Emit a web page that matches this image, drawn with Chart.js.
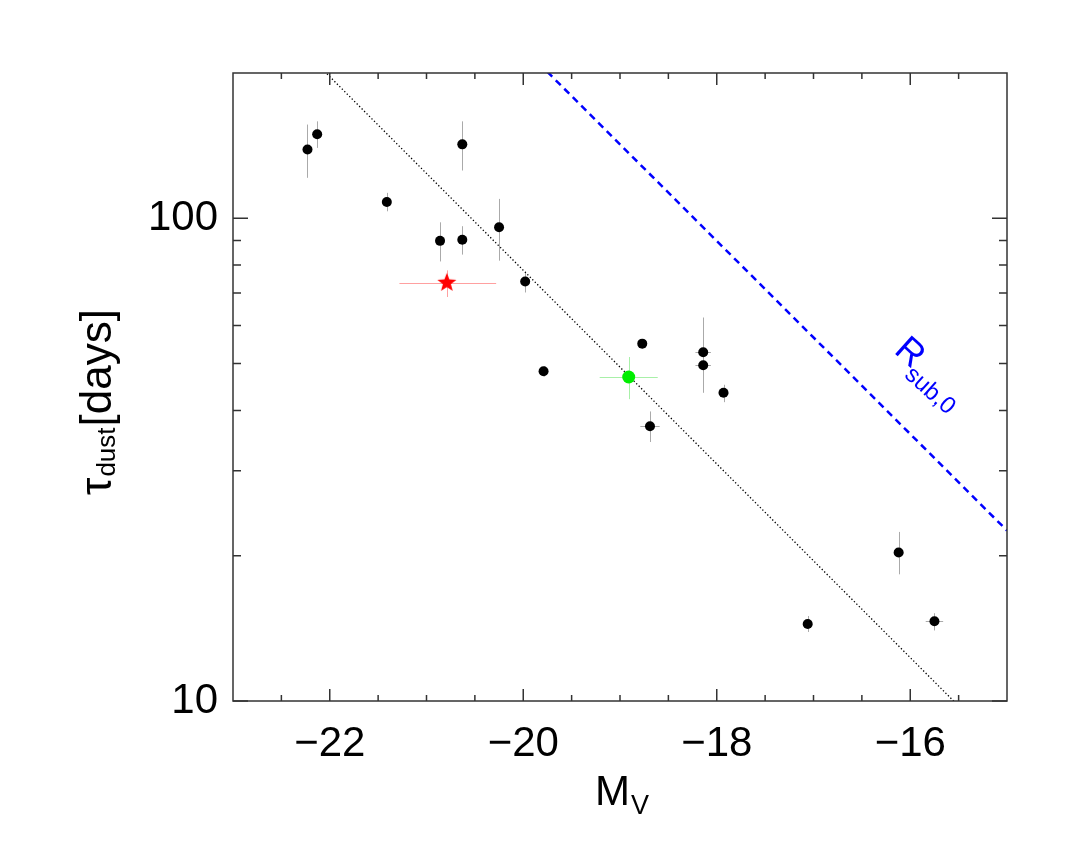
<!DOCTYPE html>
<html>
<head>
<meta charset="utf-8">
<script src="https://cdn.jsdelivr.net/npm/chart.js@4.4.1/dist/chart.umd.min.js"></script>
<style>
  body { margin: 0; background: #fff; }
  canvas { display: block; }
</style>
</head>
<body>
<canvas id="tauChart" width="1077" height="850"></canvas>
<script>
// --- data ---
// black points: M_V, tau_dust and their error bars
const mvBlack   = [-22.23, -22.13, -21.41, -20.86, -20.63, -20.63, -20.25, -19.98, -19.79, -18.77, -18.69, -18.14, -18.14, -17.93, -17.06, -16.12, -15.75];
const tauBlack  = [138.8, 149.3, 108.1, 89.8, 90.3, 142.3, 95.8, 74.0, 48.2, 55.0, 37.1, 52.8, 49.6, 43.5, 14.44, 20.3, 14.63];
const tauHi     = [156.4, 158.8, 112.9, 98.1, 96.3, 158.8, 109.7, 77.6, 49.4, 56.2, 39.8, 62.3, 52.0, 45.2, 15.0, 22.4, 15.2];
const tauLo     = [121.3, 139.9, 103.4, 81.4, 84.1, 125.6, 81.7, 70.2, 47.0, 53.8, 34.4, 50.5, 43.5, 41.6, 13.9, 18.3, 14.0];
const mvErr     = [0.03, 0.03, 0.03, 0.04, 0.04, 0.04, 0.04, 0.04, 0.04, 0.04, 0.10, 0.08, 0.08, 0.05, 0.05, 0.05, 0.09];

// red star
const mvStar = [-20.79], tauStar = [73.5];
const mvStarLo = [-21.28], mvStarHi = [-20.28], tauStarLo = [68.7], tauStarHi = [78.0];

// green point
const mvGreen = [-18.91], tauGreen = [46.9];
const mvGreenLo = [-19.21], mvGreenHi = [-18.61], tauGreenLo = [42.2], tauGreenHi = [51.6];

// fitted relation (dotted) and R_sub,0 (dashed)
const fitX = [-23, -15],   fitY = [312, 7.75];
const rsubX = [-23, -15],  rsubY = [898, 22.55];

// axes
const xMin = -23, xMax = -15, yMin = 10, yMax = 200;
const xMajor = [-22, -20, -18, -16];
const xMinor = [-22.5, -21.5, -21, -20.5, -19.5, -19, -18.5, -17.5, -17, -16.5, -15.5];
const yMajor = [10, 100];
const yMinor = [20, 30, 40, 50, 60, 70, 80, 90];

const FONT = '"Liberation Sans", Arial, Helvetica, sans-serif';

// 5-point star marker
function makeStar(r, color) {
  const c = document.createElement('canvas');
  c.width = c.height = r * 2 + 2;
  const g = c.getContext('2d');
  g.translate(r + 1, r + 1);
  g.beginPath();
  for (let i = 0; i < 10; i++) {
    const rr = i % 2 === 0 ? r : r * 0.42;
    const a = -Math.PI / 2 + i * Math.PI / 5;
    g.lineTo(rr * Math.cos(a), rr * Math.sin(a));
  }
  g.closePath();
  g.fillStyle = color;
  g.fill();
  return c;
}

const toPts = (xs, ys) => xs.map((x, i) => ({ x: x, y: ys[i] }));

// error bars, frame, inward ticks and axis titles
const decorations = {
  id: 'decorations',
  beforeDatasetsDraw(chart) {
    const ctx = chart.ctx, xs = chart.scales.x, ys = chart.scales.y;
    ctx.save();
    ctx.lineWidth = 1;
    function vbar(x, lo, hi) {
      const px = Math.round(xs.getPixelForValue(x)) + 0.5;
      ctx.beginPath();
      ctx.moveTo(px, ys.getPixelForValue(lo));
      ctx.lineTo(px, ys.getPixelForValue(hi));
      ctx.stroke();
    }
    function hbar(y, lo, hi) {
      const py = Math.round(ys.getPixelForValue(y)) + 0.5;
      ctx.beginPath();
      ctx.moveTo(xs.getPixelForValue(lo), py);
      ctx.lineTo(xs.getPixelForValue(hi), py);
      ctx.stroke();
    }
    ctx.strokeStyle = '#aaaaaa';
    mvBlack.forEach((x, i) => {
      vbar(x, tauLo[i], tauHi[i]);
      hbar(tauBlack[i], x - mvErr[i], x + mvErr[i]);
    });
    ctx.strokeStyle = '#ffa0a0';
    vbar(mvStar[0], tauStarLo[0], tauStarHi[0]);
    hbar(tauStar[0], mvStarLo[0], mvStarHi[0]);
    ctx.strokeStyle = '#a8f0a8';
    vbar(mvGreen[0], tauGreenLo[0], tauGreenHi[0]);
    hbar(tauGreen[0], mvGreenLo[0], mvGreenHi[0]);
    ctx.restore();
  },
  afterDraw(chart) {
    const ctx = chart.ctx, xs = chart.scales.x, ys = chart.scales.y;
    const a = chart.chartArea;
    ctx.save();
    ctx.strokeStyle = '#333';
    ctx.lineWidth = 1.5;
    ctx.strokeRect(a.left, a.top, a.right - a.left, a.bottom - a.top);

    function xt(v, len) {
      const px = xs.getPixelForValue(v);
      ctx.beginPath();
      ctx.moveTo(px, a.bottom); ctx.lineTo(px, a.bottom - len);
      ctx.moveTo(px, a.top);    ctx.lineTo(px, a.top + len);
      ctx.stroke();
    }
    function yt(v, len) {
      const py = ys.getPixelForValue(v);
      ctx.beginPath();
      ctx.moveTo(a.left, py);  ctx.lineTo(a.left + len, py);
      ctx.moveTo(a.right, py); ctx.lineTo(a.right - len, py);
      ctx.stroke();
    }
    xMajor.forEach(v => xt(v, 12));
    xMinor.forEach(v => xt(v, 6));
    yMajor.forEach(v => yt(v, 15));
    yMinor.forEach(v => yt(v, 8));

    ctx.fillStyle = '#000';
    ctx.textBaseline = 'alphabetic';
    ctx.textAlign = 'left';

    // x title: M_V
    ctx.font = '42px ' + FONT;
    const mW = ctx.measureText('M').width;
    const mx = 595;
    ctx.fillText('M', mx, 805);
    ctx.font = '27px ' + FONT;
    ctx.fillText('V', mx + mW + 1, 814);

    // y title: tau_dust[days]
    ctx.save();
    ctx.translate(111, 495);
    ctx.rotate(-Math.PI / 2);
    ctx.font = '44px ' + FONT;
    ctx.fillText('\u03c4', 0, 0);
    let off = ctx.measureText('\u03c4').width;
    ctx.font = '26px ' + FONT;
    ctx.fillText('dust', off + 1, 4);
    off += ctx.measureText('dust').width + 2;
    ctx.font = '44px ' + FONT;
    ctx.fillText('[days]', off, 0);
    ctx.restore();

    // R_sub,0 label along the dashed line
    ctx.save();
    ctx.fillStyle = '#0000ff';
    ctx.translate(893, 352);
    ctx.rotate(42 * Math.PI / 180);
    ctx.font = '36px ' + FONT;
    ctx.fillText('R', 0, 0);
    const rW = ctx.measureText('R').width;
    ctx.font = '24px ' + FONT;
    ctx.fillText('sub,0', rW - 2, 11);
    ctx.restore();

    ctx.restore();
  }
};

new Chart(document.getElementById('tauChart'), {
  type: 'scatter',
  data: {
    datasets: [
      {
        data: toPts(mvStar, tauStar),
        pointStyle: makeStar(10, '#ff0000'),
        pointRadius: 10
      },
      {
        data: toPts(mvGreen, tauGreen),
        backgroundColor: '#00ee00',
        borderWidth: 0,
        pointRadius: 6.5
      },
      {
        data: toPts(mvBlack, tauBlack),
        backgroundColor: '#000',
        borderWidth: 0,
        pointRadius: 5
      },
      {
        type: 'line',
        data: toPts(fitX, fitY),
        borderColor: '#000',
        borderWidth: 1.3,
        borderDash: [1.3, 2.2],
        pointRadius: 0,
        fill: false
      },
      {
        type: 'line',
        data: toPts(rsubX, rsubY),
        borderColor: '#0000ff',
        borderWidth: 2.5,
        borderDash: [7, 5],
        pointRadius: 0,
        fill: false
      }
    ]
  },
  options: {
    responsive: false,
    animation: false,
    events: [],
    layout: { padding: { left: 0, top: 73, right: 70, bottom: 0 } },
    plugins: { legend: { display: false }, tooltip: { enabled: false } },
    scales: {
      x: {
        type: 'linear',
        min: xMin, max: xMax,
        afterBuildTicks: s => { s.ticks = xMajor.map(v => ({ value: v })); },
        afterFit: s => { s.height = 149; },
        grid: { display: false, drawTicks: false },
        border: { display: false },
        ticks: {
          autoSkip: false, maxRotation: 0, padding: 18,
          color: '#000',
          font: { family: FONT, size: 42 },
          callback: v => (v < 0 ? '\u2212' : '') + Math.abs(v)
        }
      },
      y: {
        type: 'logarithmic',
        min: yMin, max: yMax,
        afterBuildTicks: s => { s.ticks = yMajor.map(v => ({ value: v })); },
        afterFit: s => { s.width = 233; },
        grid: { display: false, drawTicks: false },
        border: { display: false },
        ticks: {
          autoSkip: false, padding: 15,
          color: '#000',
          font: { family: FONT, size: 42 },
          callback: v => String(v)
        }
      }
    }
  },
  plugins: [decorations]
});
</script>
</body>
</html>
